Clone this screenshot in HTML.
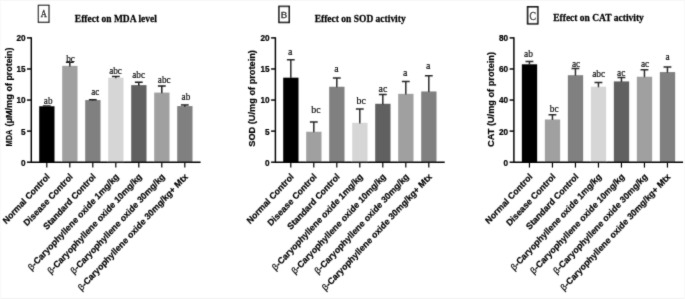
<!DOCTYPE html>
<html><head><meta charset="utf-8"><title>chart</title><style>html,body{margin:0;padding:0;background:#fff}body{width:685px;height:299px;overflow:hidden;font-family:"Liberation Sans",sans-serif}</style></head><body>
<svg width="685" height="299" viewBox="0 0 685 299" style="display:block">
<rect width="685" height="299" fill="#fff"/>
<defs><filter id="soft" x="0" y="0" width="685" height="299" filterUnits="userSpaceOnUse"><feConvolveMatrix order="3" kernelMatrix="0.02 0.08 0.02 0.08 0.6 0.08 0.02 0.08 0.02" divisor="1" edgeMode="duplicate" preserveAlpha="false"/></filter></defs><g filter="url(#soft)">
<rect x="0" y="0" width="685" height="1" fill="#f7f7f7"/><rect x="0" y="298" width="685" height="1" fill="#f2f2f2"/><rect x="0" y="0" width="1.2" height="299" fill="#f9f9f9"/><rect x="684" y="0" width="1" height="299" fill="#f9f9f9"/>
<rect x="39.20" y="106.27" width="15.3" height="55.93" fill="#000000"/>
<path d="M46.80 106.86V105.95M42.90 105.95H50.70" stroke="#1c1c1c" stroke-width="1.5" fill="none"/>
<text transform="translate(48.20 103.70) scale(1.0 1.12)" text-anchor="middle" font-family="Liberation Serif,serif" font-size="9.2" fill="#000" stroke="#000" stroke-width="0.15" stroke-linejoin="round">ab</text>
<path d="M46.80 162.20v5.4" stroke="#000" stroke-width="1.2"/>
<text transform="translate(50.30 177.30) scale(1.0 1.067) rotate(-45)" text-anchor="end" font-family="Liberation Sans,sans-serif" font-weight="bold" font-size="8.6" fill="#000" stroke="#000" stroke-width="0.22" stroke-linejoin="round">Normal Control</text>
<rect x="62.20" y="65.87" width="15.3" height="96.33" fill="#a0a0a0"/>
<path d="M69.80 66.47V62.14M65.90 62.14H73.70" stroke="#1c1c1c" stroke-width="1.5" fill="none"/>
<text transform="translate(70.50 61.60) scale(1.0 1.12)" text-anchor="middle" font-family="Liberation Serif,serif" font-size="9.2" fill="#000" stroke="#000" stroke-width="0.15" stroke-linejoin="round">bc</text>
<path d="M69.80 162.20v5.4" stroke="#000" stroke-width="1.2"/>
<text transform="translate(73.30 177.30) scale(1.0 1.067) rotate(-45)" text-anchor="end" font-family="Liberation Sans,sans-serif" font-weight="bold" font-size="8.6" fill="#000" stroke="#000" stroke-width="0.22" stroke-linejoin="round">Disease Control</text>
<rect x="85.20" y="100.05" width="15.3" height="62.15" fill="#808080"/>
<path d="M92.80 100.65V99.74M88.90 99.74H96.70" stroke="#1c1c1c" stroke-width="1.5" fill="none"/>
<text transform="translate(95.30 94.70) scale(1.0 1.12)" text-anchor="middle" font-family="Liberation Serif,serif" font-size="9.2" fill="#000" stroke="#000" stroke-width="0.15" stroke-linejoin="round">ac</text>
<path d="M92.80 162.20v5.4" stroke="#000" stroke-width="1.2"/>
<text transform="translate(96.30 177.30) scale(1.0 1.067) rotate(-45)" text-anchor="end" font-family="Liberation Sans,sans-serif" font-weight="bold" font-size="8.6" fill="#000" stroke="#000" stroke-width="0.22" stroke-linejoin="round">Standard Control</text>
<rect x="108.20" y="77.68" width="15.3" height="84.52" fill="#d6d6d6"/>
<path d="M115.80 78.28V76.43M111.90 76.43H119.70" stroke="#1c1c1c" stroke-width="1.5" fill="none"/>
<text transform="translate(115.55 74.00) scale(1.0 1.12)" text-anchor="middle" font-family="Liberation Serif,serif" font-size="9.2" fill="#000" stroke="#000" stroke-width="0.15" stroke-linejoin="round">abc</text>
<path d="M115.80 162.20v5.4" stroke="#000" stroke-width="1.2"/>
<text transform="translate(119.30 177.30) scale(1.0 1.067) rotate(-45)" text-anchor="end" font-family="Liberation Sans,sans-serif" font-weight="bold" font-size="8.6" fill="#000" stroke="#000" stroke-width="0.22" stroke-linejoin="round"><tspan font-weight="normal">β</tspan>-Caryophyllene oxide 1mg/kg</text>
<rect x="131.20" y="85.13" width="15.3" height="77.07" fill="#606060"/>
<path d="M138.80 85.73V82.34M134.90 82.34H142.70" stroke="#1c1c1c" stroke-width="1.5" fill="none"/>
<text transform="translate(138.60 77.90) scale(1.0 1.12)" text-anchor="middle" font-family="Liberation Serif,serif" font-size="9.2" fill="#000" stroke="#000" stroke-width="0.15" stroke-linejoin="round">abc</text>
<path d="M138.80 162.20v5.4" stroke="#000" stroke-width="1.2"/>
<text transform="translate(142.30 177.30) scale(1.0 1.067) rotate(-45)" text-anchor="end" font-family="Liberation Sans,sans-serif" font-weight="bold" font-size="8.6" fill="#000" stroke="#000" stroke-width="0.22" stroke-linejoin="round"><tspan font-weight="normal">β</tspan>-Caryophyllene oxide 10mg/kg</text>
<rect x="154.20" y="92.59" width="15.3" height="69.61" fill="#a0a0a0"/>
<path d="M161.80 93.19V86.07M157.90 86.07H165.70" stroke="#1c1c1c" stroke-width="1.5" fill="none"/>
<text transform="translate(164.20 82.90) scale(1.0 1.12)" text-anchor="middle" font-family="Liberation Serif,serif" font-size="9.2" fill="#000" stroke="#000" stroke-width="0.15" stroke-linejoin="round">abc</text>
<path d="M161.80 162.20v5.4" stroke="#000" stroke-width="1.2"/>
<text transform="translate(165.30 177.30) scale(1.0 1.067) rotate(-45)" text-anchor="end" font-family="Liberation Sans,sans-serif" font-weight="bold" font-size="8.6" fill="#000" stroke="#000" stroke-width="0.22" stroke-linejoin="round"><tspan font-weight="normal">β</tspan>-Caryophyllene oxide 30mg/kg</text>
<rect x="177.20" y="106.08" width="15.3" height="56.12" fill="#808080"/>
<path d="M184.80 106.68V104.96M180.90 104.96H188.70" stroke="#1c1c1c" stroke-width="1.5" fill="none"/>
<text transform="translate(185.90 99.80) scale(1.0 1.12)" text-anchor="middle" font-family="Liberation Serif,serif" font-size="9.2" fill="#000" stroke="#000" stroke-width="0.15" stroke-linejoin="round">ab</text>
<path d="M184.80 162.20v5.4" stroke="#000" stroke-width="1.2"/>
<text transform="translate(188.30 177.30) scale(1.0 1.067) rotate(-45)" text-anchor="end" font-family="Liberation Sans,sans-serif" font-weight="bold" font-size="8.6" fill="#000" stroke="#000" stroke-width="0.22" stroke-linejoin="round"><tspan font-weight="normal">β</tspan>-Caryophyllene oxide 30mg/kg+ Mtx</text>
<path d="M31.3 37.30V162.20H200.60000000000002" stroke="#000" stroke-width="1.45" fill="none"/>
<path d="M27.0 162.20H31.3" stroke="#000" stroke-width="1.45"/>
<text transform="translate(25.50 165.90) scale(1.0 1.07)" text-anchor="end" font-family="Liberation Sans,sans-serif" font-weight="bold" font-size="8.2" fill="#000" stroke="#000" stroke-width="0.22" stroke-linejoin="round">0</text>
<path d="M27.0 131.12H31.3" stroke="#000" stroke-width="1.45"/>
<text transform="translate(25.50 134.55) scale(1.0 1.07)" text-anchor="end" font-family="Liberation Sans,sans-serif" font-weight="bold" font-size="8.2" fill="#000" stroke="#000" stroke-width="0.22" stroke-linejoin="round">5</text>
<path d="M27.0 100.05H31.3" stroke="#000" stroke-width="1.45"/>
<text transform="translate(25.50 103.20) scale(1.0 1.07)" text-anchor="end" font-family="Liberation Sans,sans-serif" font-weight="bold" font-size="8.2" fill="#000" stroke="#000" stroke-width="0.22" stroke-linejoin="round">10</text>
<path d="M27.0 68.98H31.3" stroke="#000" stroke-width="1.45"/>
<text transform="translate(25.50 71.85) scale(1.0 1.07)" text-anchor="end" font-family="Liberation Sans,sans-serif" font-weight="bold" font-size="8.2" fill="#000" stroke="#000" stroke-width="0.22" stroke-linejoin="round">15</text>
<path d="M27.0 37.90H31.3" stroke="#000" stroke-width="1.45"/>
<text transform="translate(25.50 40.50) scale(1.0 1.07)" text-anchor="end" font-family="Liberation Sans,sans-serif" font-weight="bold" font-size="8.2" fill="#000" stroke="#000" stroke-width="0.22" stroke-linejoin="round">20</text>
<text transform="translate(11.60 146.40) rotate(-90)" text-anchor="start" font-family="Liberation Sans,sans-serif" font-weight="bold" font-size="8.6" fill="#000" textLength="16.6" lengthAdjust="spacingAndGlyphs" stroke="#000" stroke-width="0.2" stroke-linejoin="round">MDA</text>
<text transform="translate(11.60 126.40) rotate(-90)" text-anchor="start" font-family="Liberation Sans,sans-serif" font-weight="bold" font-size="8.6" fill="#000" textLength="32.2" lengthAdjust="spacingAndGlyphs" stroke="#000" stroke-width="0.2" stroke-linejoin="round">(µM/mg</text>
<text transform="translate(11.60 91.40) rotate(-90)" text-anchor="start" font-family="Liberation Sans,sans-serif" font-weight="bold" font-size="8.6" fill="#000" textLength="43.8" lengthAdjust="spacingAndGlyphs" stroke="#000" stroke-width="0.2" stroke-linejoin="round">of protein)</text>
<text transform="translate(115.85 21.50) scale(1.0 1.2)" text-anchor="middle" font-family="Liberation Serif,serif" font-weight="bold" font-size="9.5" fill="#000" stroke="#000" stroke-width="0.22" stroke-linejoin="round">Effect on MDA level</text>
<rect x="38.42" y="5.33" width="10.55" height="16.95" fill="#fff" stroke="#161616" stroke-width="1.25"/>
<text transform="translate(43.70 17.10) scale(0.95 1.25)" text-anchor="middle" font-family="Liberation Serif,serif" font-size="8.8" fill="#000" stroke="#000" stroke-width="0.3" stroke-linejoin="round">A</text>
<rect x="283.20" y="77.68" width="15.3" height="84.52" fill="#000000"/>
<path d="M290.80 78.28V59.84M286.90 59.84H294.70" stroke="#2a2a2a" stroke-width="1.5" fill="none"/>
<text transform="translate(290.25 54.80) scale(1.0 1.12)" text-anchor="middle" font-family="Liberation Serif,serif" font-size="9.9" fill="#000" stroke="#000" stroke-width="0.15" stroke-linejoin="round">a</text>
<path d="M290.80 162.20v5.4" stroke="#000" stroke-width="1.2"/>
<text transform="translate(294.30 177.30) scale(1.0 1.067) rotate(-45)" text-anchor="end" font-family="Liberation Sans,sans-serif" font-weight="bold" font-size="8.6" fill="#000" stroke="#000" stroke-width="0.22" stroke-linejoin="round">Normal Control</text>
<rect x="306.20" y="131.75" width="15.3" height="30.45" fill="#a0a0a0"/>
<path d="M313.80 132.35V122.11M309.90 122.11H317.70" stroke="#2a2a2a" stroke-width="1.5" fill="none"/>
<text transform="translate(316.00 112.70) scale(1.0 1.12)" text-anchor="middle" font-family="Liberation Serif,serif" font-size="9.9" fill="#000" stroke="#000" stroke-width="0.15" stroke-linejoin="round">bc</text>
<path d="M313.80 162.20v5.4" stroke="#000" stroke-width="1.2"/>
<text transform="translate(317.30 177.30) scale(1.0 1.067) rotate(-45)" text-anchor="end" font-family="Liberation Sans,sans-serif" font-weight="bold" font-size="8.6" fill="#000" stroke="#000" stroke-width="0.22" stroke-linejoin="round">Disease Control</text>
<rect x="329.20" y="86.75" width="15.3" height="75.45" fill="#808080"/>
<path d="M336.80 87.35V77.92M332.90 77.92H340.70" stroke="#2a2a2a" stroke-width="1.5" fill="none"/>
<text transform="translate(336.50 72.00) scale(1.0 1.12)" text-anchor="middle" font-family="Liberation Serif,serif" font-size="9.9" fill="#000" stroke="#000" stroke-width="0.15" stroke-linejoin="round">a</text>
<path d="M336.80 162.20v5.4" stroke="#000" stroke-width="1.2"/>
<text transform="translate(340.30 177.30) scale(1.0 1.067) rotate(-45)" text-anchor="end" font-family="Liberation Sans,sans-serif" font-weight="bold" font-size="8.6" fill="#000" stroke="#000" stroke-width="0.22" stroke-linejoin="round">Standard Control</text>
<rect x="352.20" y="122.80" width="15.3" height="39.40" fill="#d6d6d6"/>
<path d="M359.80 123.40V108.88M355.90 108.88H363.70" stroke="#2a2a2a" stroke-width="1.5" fill="none"/>
<text transform="translate(361.10 103.60) scale(1.0 1.12)" text-anchor="middle" font-family="Liberation Serif,serif" font-size="9.9" fill="#000" stroke="#000" stroke-width="0.15" stroke-linejoin="round">bc</text>
<path d="M359.80 162.20v5.4" stroke="#000" stroke-width="1.2"/>
<text transform="translate(363.30 177.30) scale(1.0 1.067) rotate(-45)" text-anchor="end" font-family="Liberation Sans,sans-serif" font-weight="bold" font-size="8.6" fill="#000" stroke="#000" stroke-width="0.22" stroke-linejoin="round"><tspan font-weight="normal">β</tspan>-Caryophyllene oxide 1mg/kg</text>
<rect x="375.20" y="103.78" width="15.3" height="58.42" fill="#606060"/>
<path d="M382.80 104.38V94.46M378.90 94.46H386.70" stroke="#2a2a2a" stroke-width="1.5" fill="none"/>
<text transform="translate(382.90 92.30) scale(1.0 1.12)" text-anchor="middle" font-family="Liberation Serif,serif" font-size="9.9" fill="#000" stroke="#000" stroke-width="0.15" stroke-linejoin="round">ac</text>
<path d="M382.80 162.20v5.4" stroke="#000" stroke-width="1.2"/>
<text transform="translate(386.30 177.30) scale(1.0 1.067) rotate(-45)" text-anchor="end" font-family="Liberation Sans,sans-serif" font-weight="bold" font-size="8.6" fill="#000" stroke="#000" stroke-width="0.22" stroke-linejoin="round"><tspan font-weight="normal">β</tspan>-Caryophyllene oxide 10mg/kg</text>
<rect x="398.20" y="93.83" width="15.3" height="68.36" fill="#a0a0a0"/>
<path d="M405.80 94.43V81.41M401.90 81.41H409.70" stroke="#2a2a2a" stroke-width="1.5" fill="none"/>
<text transform="translate(405.10 76.20) scale(1.0 1.12)" text-anchor="middle" font-family="Liberation Serif,serif" font-size="9.9" fill="#000" stroke="#000" stroke-width="0.15" stroke-linejoin="round">a</text>
<path d="M405.80 162.20v5.4" stroke="#000" stroke-width="1.2"/>
<text transform="translate(409.30 177.30) scale(1.0 1.067) rotate(-45)" text-anchor="end" font-family="Liberation Sans,sans-serif" font-weight="bold" font-size="8.6" fill="#000" stroke="#000" stroke-width="0.22" stroke-linejoin="round"><tspan font-weight="normal">β</tspan>-Caryophyllene oxide 30mg/kg</text>
<rect x="421.20" y="91.47" width="15.3" height="70.73" fill="#808080"/>
<path d="M428.80 92.07V75.63M424.90 75.63H432.70" stroke="#2a2a2a" stroke-width="1.5" fill="none"/>
<text transform="translate(428.10 69.30) scale(1.0 1.12)" text-anchor="middle" font-family="Liberation Serif,serif" font-size="9.9" fill="#000" stroke="#000" stroke-width="0.15" stroke-linejoin="round">a</text>
<path d="M428.80 162.20v5.4" stroke="#000" stroke-width="1.2"/>
<text transform="translate(432.30 177.30) scale(1.0 1.067) rotate(-45)" text-anchor="end" font-family="Liberation Sans,sans-serif" font-weight="bold" font-size="8.6" fill="#000" stroke="#000" stroke-width="0.22" stroke-linejoin="round"><tspan font-weight="normal">β</tspan>-Caryophyllene oxide 30mg/kg+ Mtx</text>
<path d="M275.4 37.30V162.20H444.7" stroke="#000" stroke-width="1.45" fill="none"/>
<path d="M271.09999999999997 162.20H275.4" stroke="#000" stroke-width="1.45"/>
<text transform="translate(269.60 165.90) scale(1.0 1.07)" text-anchor="end" font-family="Liberation Sans,sans-serif" font-weight="bold" font-size="8.2" fill="#000" stroke="#000" stroke-width="0.22" stroke-linejoin="round">0</text>
<path d="M271.09999999999997 131.12H275.4" stroke="#000" stroke-width="1.45"/>
<text transform="translate(269.60 134.55) scale(1.0 1.07)" text-anchor="end" font-family="Liberation Sans,sans-serif" font-weight="bold" font-size="8.2" fill="#000" stroke="#000" stroke-width="0.22" stroke-linejoin="round">5</text>
<path d="M271.09999999999997 100.05H275.4" stroke="#000" stroke-width="1.45"/>
<text transform="translate(269.60 103.20) scale(1.0 1.07)" text-anchor="end" font-family="Liberation Sans,sans-serif" font-weight="bold" font-size="8.2" fill="#000" stroke="#000" stroke-width="0.22" stroke-linejoin="round">10</text>
<path d="M271.09999999999997 68.98H275.4" stroke="#000" stroke-width="1.45"/>
<text transform="translate(269.60 71.85) scale(1.0 1.07)" text-anchor="end" font-family="Liberation Sans,sans-serif" font-weight="bold" font-size="8.2" fill="#000" stroke="#000" stroke-width="0.22" stroke-linejoin="round">15</text>
<path d="M271.09999999999997 37.90H275.4" stroke="#000" stroke-width="1.45"/>
<text transform="translate(269.60 40.50) scale(1.0 1.07)" text-anchor="end" font-family="Liberation Sans,sans-serif" font-weight="bold" font-size="8.2" fill="#000" stroke="#000" stroke-width="0.22" stroke-linejoin="round">20</text>
<text transform="translate(255.40 146.70) rotate(-90)" text-anchor="start" font-family="Liberation Sans,sans-serif" font-weight="bold" font-size="8.6" fill="#000" textLength="96.6" lengthAdjust="spacingAndGlyphs" stroke="#000" stroke-width="0.2" stroke-linejoin="round">SOD (U/mg of protein)</text>
<text transform="translate(360.20 21.50) scale(1.0 1.2)" text-anchor="middle" font-family="Liberation Serif,serif" font-weight="bold" font-size="9.5" fill="#000" stroke="#000" stroke-width="0.22" stroke-linejoin="round">Effect on SOD activity</text>
<rect x="279.00" y="6.40" width="10.20" height="16.00" fill="#fff" stroke="#161616" stroke-width="1.6"/>
<text transform="translate(283.90 18.30)" text-anchor="middle" font-family="Liberation Sans,sans-serif" font-size="9.8" fill="#000" stroke="#000" stroke-width="0.3" stroke-linejoin="round">B</text>
<rect x="521.85" y="64.31" width="15.3" height="97.89" fill="#000000"/>
<path d="M529.45 64.91V61.52M525.55 61.52H533.35" stroke="#2a2a2a" stroke-width="1.5" fill="none"/>
<text transform="translate(528.50 57.40) scale(1.0 1.12)" text-anchor="middle" font-family="Liberation Serif,serif" font-size="9.4" fill="#000" stroke="#000" stroke-width="0.15" stroke-linejoin="round">ab</text>
<path d="M529.45 162.20v5.4" stroke="#000" stroke-width="1.2"/>
<text transform="translate(532.95 177.30) scale(1.0 1.067) rotate(-45)" text-anchor="end" font-family="Liberation Sans,sans-serif" font-weight="bold" font-size="8.6" fill="#000" stroke="#000" stroke-width="0.22" stroke-linejoin="round">Normal Control</text>
<rect x="544.85" y="119.47" width="15.3" height="42.73" fill="#a0a0a0"/>
<path d="M552.45 120.07V114.81M548.55 114.81H556.35" stroke="#2a2a2a" stroke-width="1.5" fill="none"/>
<text transform="translate(554.20 111.70) scale(1.0 1.12)" text-anchor="middle" font-family="Liberation Serif,serif" font-size="9.4" fill="#000" stroke="#000" stroke-width="0.15" stroke-linejoin="round">bc</text>
<path d="M552.45 162.20v5.4" stroke="#000" stroke-width="1.2"/>
<text transform="translate(555.95 177.30) scale(1.0 1.067) rotate(-45)" text-anchor="end" font-family="Liberation Sans,sans-serif" font-weight="bold" font-size="8.6" fill="#000" stroke="#000" stroke-width="0.22" stroke-linejoin="round">Disease Control</text>
<rect x="567.85" y="75.19" width="15.3" height="87.01" fill="#808080"/>
<path d="M575.45 75.79V68.51M571.55 68.51H579.35" stroke="#2a2a2a" stroke-width="1.5" fill="none"/>
<text transform="translate(576.10 67.20) scale(1.0 1.12)" text-anchor="middle" font-family="Liberation Serif,serif" font-size="9.4" fill="#000" stroke="#000" stroke-width="0.15" stroke-linejoin="round">ac</text>
<path d="M575.45 162.20v5.4" stroke="#000" stroke-width="1.2"/>
<text transform="translate(578.95 177.30) scale(1.0 1.067) rotate(-45)" text-anchor="end" font-family="Liberation Sans,sans-serif" font-weight="bold" font-size="8.6" fill="#000" stroke="#000" stroke-width="0.22" stroke-linejoin="round">Standard Control</text>
<rect x="590.85" y="86.69" width="15.3" height="75.51" fill="#d6d6d6"/>
<path d="M598.45 87.29V82.38M594.55 82.38H602.35" stroke="#2a2a2a" stroke-width="1.5" fill="none"/>
<text transform="translate(598.70 76.80) scale(1.0 1.12)" text-anchor="middle" font-family="Liberation Serif,serif" font-size="9.4" fill="#000" stroke="#000" stroke-width="0.15" stroke-linejoin="round">abc</text>
<path d="M598.45 162.20v5.4" stroke="#000" stroke-width="1.2"/>
<text transform="translate(601.95 177.30) scale(1.0 1.067) rotate(-45)" text-anchor="end" font-family="Liberation Sans,sans-serif" font-weight="bold" font-size="8.6" fill="#000" stroke="#000" stroke-width="0.22" stroke-linejoin="round"><tspan font-weight="normal">β</tspan>-Caryophyllene oxide 1mg/kg</text>
<rect x="613.85" y="81.41" width="15.3" height="80.79" fill="#606060"/>
<path d="M621.45 82.00V77.52M617.55 77.52H625.35" stroke="#2a2a2a" stroke-width="1.5" fill="none"/>
<text transform="translate(621.20 76.40) scale(1.0 1.12)" text-anchor="middle" font-family="Liberation Serif,serif" font-size="9.4" fill="#000" stroke="#000" stroke-width="0.15" stroke-linejoin="round">ac</text>
<path d="M621.45 162.20v5.4" stroke="#000" stroke-width="1.2"/>
<text transform="translate(624.95 177.30) scale(1.0 1.067) rotate(-45)" text-anchor="end" font-family="Liberation Sans,sans-serif" font-weight="bold" font-size="8.6" fill="#000" stroke="#000" stroke-width="0.22" stroke-linejoin="round"><tspan font-weight="normal">β</tspan>-Caryophyllene oxide 10mg/kg</text>
<rect x="636.85" y="76.74" width="15.3" height="85.46" fill="#a0a0a0"/>
<path d="M644.45 77.34V69.75M640.55 69.75H648.35" stroke="#2a2a2a" stroke-width="1.5" fill="none"/>
<text transform="translate(645.10 66.60) scale(1.0 1.12)" text-anchor="middle" font-family="Liberation Serif,serif" font-size="9.4" fill="#000" stroke="#000" stroke-width="0.15" stroke-linejoin="round">ac</text>
<path d="M644.45 162.20v5.4" stroke="#000" stroke-width="1.2"/>
<text transform="translate(647.95 177.30) scale(1.0 1.067) rotate(-45)" text-anchor="end" font-family="Liberation Sans,sans-serif" font-weight="bold" font-size="8.6" fill="#000" stroke="#000" stroke-width="0.22" stroke-linejoin="round"><tspan font-weight="normal">β</tspan>-Caryophyllene oxide 30mg/kg</text>
<rect x="659.85" y="72.08" width="15.3" height="90.12" fill="#808080"/>
<path d="M667.45 72.68V66.96M663.55 66.96H671.35" stroke="#2a2a2a" stroke-width="1.5" fill="none"/>
<text transform="translate(667.60 60.00) scale(1.0 1.12)" text-anchor="middle" font-family="Liberation Serif,serif" font-size="9.4" fill="#000" stroke="#000" stroke-width="0.15" stroke-linejoin="round">a</text>
<path d="M667.45 162.20v5.4" stroke="#000" stroke-width="1.2"/>
<text transform="translate(670.95 177.30) scale(1.0 1.067) rotate(-45)" text-anchor="end" font-family="Liberation Sans,sans-serif" font-weight="bold" font-size="8.6" fill="#000" stroke="#000" stroke-width="0.22" stroke-linejoin="round"><tspan font-weight="normal">β</tspan>-Caryophyllene oxide 30mg/kg+ Mtx</text>
<path d="M513.9 37.30V162.20H683.2" stroke="#000" stroke-width="1.45" fill="none"/>
<path d="M509.59999999999997 162.20H513.9" stroke="#000" stroke-width="1.45"/>
<text transform="translate(508.10 165.90) scale(1.0 1.07)" text-anchor="end" font-family="Liberation Sans,sans-serif" font-weight="bold" font-size="8.2" fill="#000" stroke="#000" stroke-width="0.22" stroke-linejoin="round">0</text>
<path d="M509.59999999999997 131.12H513.9" stroke="#000" stroke-width="1.45"/>
<text transform="translate(508.10 134.55) scale(1.0 1.07)" text-anchor="end" font-family="Liberation Sans,sans-serif" font-weight="bold" font-size="8.2" fill="#000" stroke="#000" stroke-width="0.22" stroke-linejoin="round">20</text>
<path d="M509.59999999999997 100.05H513.9" stroke="#000" stroke-width="1.45"/>
<text transform="translate(508.10 103.20) scale(1.0 1.07)" text-anchor="end" font-family="Liberation Sans,sans-serif" font-weight="bold" font-size="8.2" fill="#000" stroke="#000" stroke-width="0.22" stroke-linejoin="round">40</text>
<path d="M509.59999999999997 68.98H513.9" stroke="#000" stroke-width="1.45"/>
<text transform="translate(508.10 71.85) scale(1.0 1.07)" text-anchor="end" font-family="Liberation Sans,sans-serif" font-weight="bold" font-size="8.2" fill="#000" stroke="#000" stroke-width="0.22" stroke-linejoin="round">60</text>
<path d="M509.59999999999997 37.90H513.9" stroke="#000" stroke-width="1.45"/>
<text transform="translate(508.10 40.50) scale(1.0 1.07)" text-anchor="end" font-family="Liberation Sans,sans-serif" font-weight="bold" font-size="8.2" fill="#000" stroke="#000" stroke-width="0.22" stroke-linejoin="round">80</text>
<text transform="translate(493.70 146.90) rotate(-90)" text-anchor="start" font-family="Liberation Sans,sans-serif" font-weight="bold" font-size="8.6" fill="#000" textLength="94.9" lengthAdjust="spacingAndGlyphs" stroke="#000" stroke-width="0.2" stroke-linejoin="round">CAT (U/mg of protein)</text>
<text transform="translate(598.55 21.10) scale(1.0 1.2)" text-anchor="middle" font-family="Liberation Serif,serif" font-weight="bold" font-size="9.5" fill="#000" stroke="#000" stroke-width="0.22" stroke-linejoin="round">Effect on CAT activity</text>
<rect x="527.65" y="6.85" width="10.10" height="16.90" fill="#fff" stroke="#161616" stroke-width="1.7"/>
<text transform="translate(532.70 20.00) scale(1.0 1.22)" text-anchor="middle" font-family="Liberation Serif,serif" font-size="9.6" fill="#000" stroke="#000" stroke-width="0.3" stroke-linejoin="round">C</text>
</g></svg>
</body></html>
